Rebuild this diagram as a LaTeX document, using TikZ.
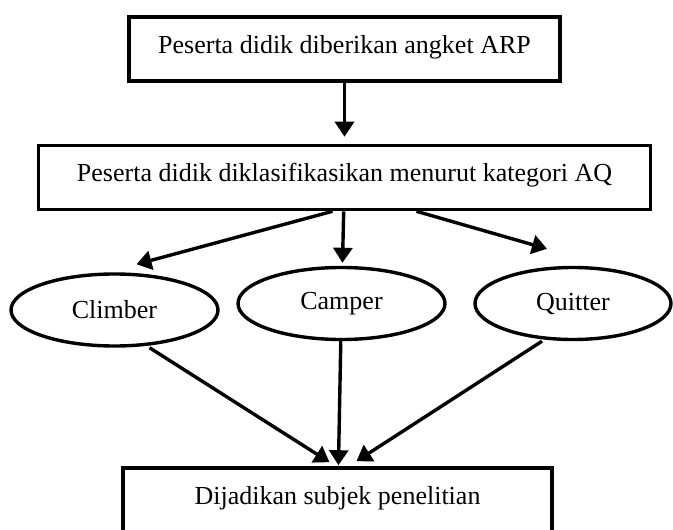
\documentclass[tikz,border=0pt]{standalone}
\usepackage{fontspec}
\setmainfont{Liberation Serif}
\usetikzlibrary{shapes.geometric, arrows.meta, positioning}
\tikzstyle{process} = [rectangle, text height=36pt, text depth=28pt, inner ysep=0pt, text centered, draw=black, line width=3.6pt]
\tikzstyle{kategori} = [ellipse, minimum width=207pt, minimum height=72pt, inner sep=0pt, text centered, draw=black, line width=3.4pt]
\tikzstyle{arrow} = [line width=3.4pt,-{Triangle[length=15pt,width=19pt]}]

\begin{document}
\begin{tikzpicture}[x=1pt, y=1pt, node distance=128pt, every node/.style={font=\fontsize{26}{30}\selectfont}]
\useasboundingbox (0,0) rectangle (673,-530);
\clip (0,0) rectangle (673,-530);

\node (angket) [process, minimum width=431pt] at (344.5,-49) {Peserta didik diberikan angket ARP};
\node (klasifikasi) [process, minimum width=612pt, below of=angket, yshift=-0.5pt] {Peserta didik diklasifikasikan menurut kategori AQ};

\node (camper) [kategori, below of=klasifikasi, xshift=-3pt, yshift=2pt] {Camper};
\node (climber) [kategori, left of=camper, xshift=-99pt, yshift=-6.5pt] {Climber};
\node (quitter) [kategori, minimum width=196pt, right of=camper, xshift=103.5pt] {Quitter};

\node (subjek) [process, minimum width=429pt, text depth=60pt, below of=camper, xshift=-4pt, yshift=-84.5pt] {Dijadikan subjek penelitian};

\draw [arrow, shorten >=7pt] (angket) -- (klasifikasi);

\draw [arrow] ([xshift=-12pt]klasifikasi.south) -- ([xshift=22pt,yshift=8pt]climber.north);
\draw [arrow, shorten >=3pt] (klasifikasi) -- (camper);
\draw [arrow] ([xshift=72pt]klasifikasi.south) -- ([xshift=-26pt,yshift=17pt]quitter.north);

\draw [arrow] ([xshift=35pt]climber.south) -- ([xshift=-8pt,yshift=4pt]subjek.north);
\draw [arrow, shorten >=1pt] (camper) -- (subjek);
\draw [arrow] ([xshift=-31pt]quitter.south) -- ([xshift=19pt,yshift=5pt]subjek.north);

\end{tikzpicture}
\end{document}
